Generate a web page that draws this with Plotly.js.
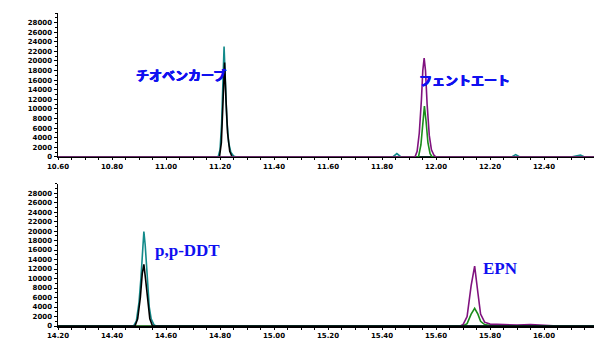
<!DOCTYPE html>
<html><head><meta charset="utf-8">
<script src="https://cdn.plot.ly/plotly-3.0.1.min.js"></script>
<style>html,body{margin:0;padding:0;background:#fff}</style>
</head><body><div id="chart" style="width:594px;height:340px"></div>
<script>
// ---- Top chromatogram (10.60 - 12.58 min) ----
const topTealX  = [10.60,10.90,10.95,11.00,11.10,11.193,11.200,11.206,11.211,11.215,11.219,11.225,11.232,11.240,11.250,11.260,11.80,11.84,11.855,11.87,11.90,12.28,12.295,12.31,12.50,12.535,12.55,12.585];
const topTealY  = [0,0,150,0,0,0,1500,7000,16000,23000,17000,8000,3000,1000,200,0,0,0,700,0,0,0,500,0,0,400,0,0];
const topBlackX = [10.60,11.198,11.205,11.211,11.217,11.222,11.228,11.236,11.245,12.585];
const topBlackY = [0,0,3000,11000,19700,12000,5000,1200,0,0];
const topGreenX = [10.60,11.935,11.944,11.951,11.957,11.963,11.970,11.978,11.986,12.585];
const topGreenY = [0,0,2500,7500,10600,7500,3000,700,0,0];
const topPurpleX= [10.60,11.922,11.930,11.938,11.946,11.951,11.956,11.961,11.967,11.975,11.983,11.992,12.000,12.585];
const topPurpleY= [0,0,1200,5000,12000,18000,20600,18000,11000,4500,1500,400,0,0];

// ---- Bottom chromatogram (14.20 - 16.18 min) ----
const botTealX  = [14.20,14.480,14.490,14.500,14.507,14.513,14.518,14.523,14.530,14.538,14.545,14.555,14.562,16.185];
const botTealY  = [0,0,1000,5000,10000,17000,19900,17000,10000,4000,1500,300,0,0];
const botBlackX = [14.20,14.485,14.495,14.505,14.512,14.518,14.524,14.532,14.540,14.550,16.185];
const botBlackY = [0,0,1500,6000,11000,13000,10000,5000,1500,0,0];
const botPurpleX= [14.20,15.690,15.700,15.715,15.730,15.743,15.755,15.765,15.780,15.800,15.850,15.900,15.950,16.000,16.050,16.185];
const botPurpleY= [0,0,300,2000,8500,12600,7000,2500,800,400,300,200,300,200,0,0];
const botGreenX = [14.20,15.700,15.715,15.730,15.743,15.755,15.765,15.780,15.800,15.820,16.185];
const botGreenY = [0,0,500,2500,3700,2500,1000,300,100,0,0];

const yTicks = [0,2000,4000,6000,8000,10000,12000,14000,16000,18000,20000,22000,24000,26000,28000];
const topXTicks = [10.6,10.8,11.0,11.2,11.4,11.6,11.8,12.0,12.2,12.4];
const botXTicks = [14.2,14.4,14.6,14.8,15.0,15.2,15.4,15.6,15.8,16.0];

const labels = [
  {text:'チオベンカーブ', x:11.056, y:17200, ax:'x', ay:'y'},
  {text:'フェントエート', x:12.107, y:16200, ax:'x', ay:'y'},
  {text:'p,p-DDT', x:14.678, y:16000, ax:'x2', ay:'y2'},
  {text:'EPN', x:15.837, y:12100, ax:'x2', ay:'y2'}
];

const C = {teal:'#138a8a', black:'#000000', green:'#1a8c1a', purple:'#80127f'};
function tr(x,y,color,xa,ya){return {x:x,y:y,type:'scatter',mode:'lines',line:{color:color,width:1.6},xaxis:xa,yaxis:ya,hoverinfo:'skip'};}

const data = [
  tr(topTealX,topTealY,C.teal,'x','y'),
  tr(topBlackX,topBlackY,C.black,'x','y'),
  tr(topGreenX,topGreenY,C.green,'x','y'),
  tr(topPurpleX,topPurpleY,C.purple,'x','y'),
  tr(botPurpleX,botPurpleY,C.purple,'x2','y2'),
  tr(botGreenX,botGreenY,C.green,'x2','y2'),
  tr(botTealX,botTealY,C.teal,'x2','y2'),
  tr(botBlackX,botBlackY,C.black,'x2','y2')
];

const tickFont = {family:'DejaVu Sans', size:7, color:'#000', weight:'bold'};
function xax(range,ticks,anchor){return {range:range,tickvals:ticks,ticktext:ticks.map(v=>v.toFixed(2)),showgrid:false,zeroline:false,showline:true,linecolor:'#000',linewidth:1.5,ticks:'outside',ticklen:2,tickwidth:1,tickcolor:'#000',tickfont:tickFont,anchor:anchor,minor:{dtick:0.05,tick0:0,ticks:'outside',ticklen:2,tickcolor:'#000'}};}
function yax(domain,anchor){return {range:[0,30000],domain:domain,tickvals:yTicks,ticktext:yTicks.map(String),showgrid:false,zeroline:false,showline:true,linecolor:'#000',linewidth:1.5,ticks:'outside',ticklen:3,tickwidth:1,tickcolor:'#000',tickfont:tickFont,anchor:anchor,minor:{dtick:1000,ticks:'outside',ticklen:2,tickcolor:'#000'}};}

const shadowJP = '0.5px 0 0 #1010f0, -0.5px 0 0 #1010f0, 0 0.4px 0 #1010f0';
const layout = {
  width:594, height:340,
  margin:{l:58,r:0,t:13,b:14},
  paper_bgcolor:'#fff', plot_bgcolor:'#fff',
  showlegend:false,
  xaxis: xax([10.6,12.585],topXTicks,'y'),
  yaxis: yax([0.54,1],'x'),
  xaxis2: xax([14.2,16.185],botXTicks,'y2'),
  yaxis2: yax([0,0.455],'x2'),
  annotations: labels.map((l,i)=>({
    text:l.text, x:l.x, y:l.y, xref:l.ax, yref:l.ay, showarrow:false,
    font: i<2 ? {family:'Noto Sans CJK JP', size:13, color:'#1010f0', weight:'bold', shadow:shadowJP}
              : {family:'Liberation Serif', size:17, color:'#1010f0', weight:'bold'}
  }))
};

Plotly.newPlot('chart', data, layout, {staticPlot:true});
</script></body></html>
